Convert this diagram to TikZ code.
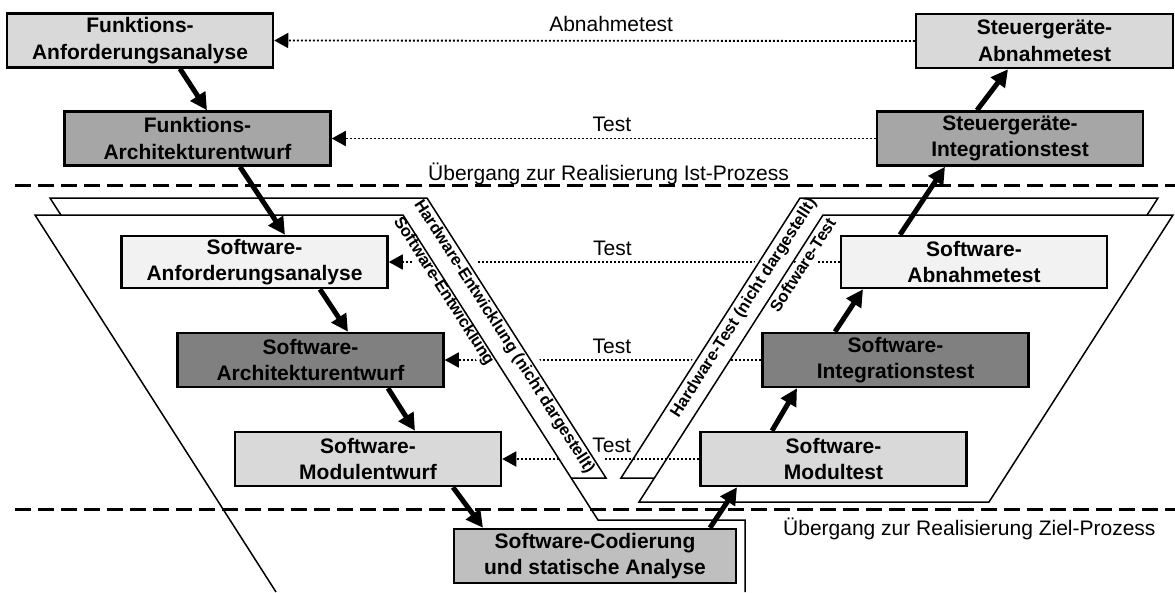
\documentclass[tikz,border=0pt]{standalone}
\usepackage{fontspec}
\setmainfont{Liberation Sans}
\usetikzlibrary{arrows.meta,calc}
\definecolor{gLight}{HTML}{D9D9D9}
\definecolor{gPale}{HTML}{F2F2F2}
\definecolor{gMid}{HTML}{A6A6A6}
\definecolor{gDark}{HTML}{808080}
\definecolor{gCode}{HTML}{BFBFBF}
\tikzset{
  box/.style={draw=black, line width=2.5pt, minimum width=266pt, minimum height=54pt,
    inner sep=0pt, align=center, font=\bfseries\fontsize{21}{26.7}\selectfont},
  flow/.style={line width=5pt, -{Triangle[length=17pt,width=17pt]}},
  testline/.style={line width=1.8pt, dash pattern=on 1.8pt off 2.2pt,
    -{Triangle[length=14pt,width=15pt]}},
  outline/.style={draw=black, line width=1.5pt, line join=miter},
  sepline/.style={line width=3pt, dash pattern=on 16pt off 7pt},
  lbl/.style={font=\fontsize{21}{25}\selectfont, anchor=base, inner sep=0pt},
  rottext/.style={font=\bfseries\fontsize{16.5}{18}\selectfont, fill=white,
    text height=12pt, text depth=3.5pt, inner xsep=2pt, inner ysep=1.5pt},
}
\begin{document}
\begin{tikzpicture}[x=1pt,y=-1pt]
\useasboundingbox (0,0) rectangle (1175,592);

% process boxes
\node[box, fill=gLight] (faa) at (140,40.5) {Funktions-\\Anforderungsanalyse};
\node[box, fill=gMid] (fae) at (197.5,138.5) {Funktions-\\Architekturentwurf};
\node[box, fill=gLight, minimum width=257pt] (sga) at (1044.5,41) {Steuergeräte-\\Abnahmetest};
\node[box, fill=gMid] (sgi) at (1010,138.5) {Steuergeräte-\\Integrationstest};
\node[box, fill=gPale, minimum height=52pt] (sanf) at (254.5,262) {Software-\\Anforderungsanalyse};
\node[box, fill=gDark] (sarch) at (310.5,360) {Software-\\Architekturentwurf};
\node[box, fill=gLight] (sme) at (368,459) {Software-\\Modulentwurf};
\node[box, fill=gPale, minimum height=52pt] (sabn) at (974,262) {Software-\\Abnahmetest};
\node[box, fill=gDark] (sint) at (895.5,360) {Software-\\Integrationstest};
\node[box, fill=gLight] (smt) at (833.5,459) {Software-\\Modultest};
\node[box, fill=gCode, minimum width=282pt] (scod) at (595,556) {Software-Codierung\\und statische Analyse};

% dotted test connectors
\draw[testline] (sga.west) -- node[lbl, pos=0.474, yshift=9pt]{Abnahmetest} (faa.east);
\draw[testline] (sgi.west) -- node[lbl, pos=0.485, yshift=7pt]{Test} (fae.east);
\draw[testline] (sabn.west) -- node[lbl, pos=0.504, yshift=7pt]{Test} (sanf.east);
\draw[testline] (sint.west) -- node[lbl, pos=0.472, yshift=6.5pt]{Test} (sarch.east);
\draw[testline] (smt.west) -- node[lbl, pos=0.445, yshift=6.5pt]{Test} (sme.east);

% rotated phase labels (white boxes hide the dotted lines)
\node[rottext, inner ysep=10pt, rotate=-57.4] (hwE) at (504,337) {Hardware-Entwicklung (nicht dargestellt)};
\node[rottext, rotate=-57.4] (swE) at (443.5,291.5) {Software-Entwicklung};
\node[rottext, inner ysep=8pt, rotate=57.4] (hwT) at (744,308) {Hardware-Test (nicht dargestellt)};
\node[rottext, rotate=57.4] (swT) at (804,266) {Software-Test};

% phase outlines
\draw[outline] (60.9,215) -- (50,198) -- (427,198) -- (606,478) -- (571.3,478);
\draw[outline] (276,592) -- (35,215) -- (403,215) -- (598,520) -- (745,520) -- (745,592);
\draw[outline] (654.7,478) -- (621,478) -- (800,198) -- (1158,198) -- (1147.1,215);
\draw[outline] (823,215) -- (1173,215) -- (989,502) -- (639,502) -- cycle;

% transition lines
\coordinate (ist0) at (15,185); \coordinate (ist1) at (1175,185);
\coordinate (ziel0) at (15,509); \coordinate (ziel1) at (1175,509);
\draw[sepline] (ist0) -- (ist1);
\draw[sepline] (ziel0) -- (ziel1);
\node[lbl, anchor=base west] (istT) at (428,180) {Übergang zur Realisierung Ist-Prozess};
\node[lbl, anchor=base west] (zielT) at (783,535) {Übergang zur Realisierung Ziel-Prozess};

% flow arrows
\draw[flow] ([xshift=40pt]faa.south) -- ([xshift=9.5pt]fae.north);
\draw[flow] ([xshift=42.5pt]fae.south) -- ([xshift=30.5pt]sanf.north);
\draw[flow] ([xshift=65.5pt]sanf.south) -- ([xshift=37.5pt]sarch.north);
\draw[flow] ([xshift=77.5pt]sarch.south) -- ([xshift=47pt]sme.north);
\draw[flow] ([xshift=85pt]sme.south) -- ([xshift=-112pt]scod.north);
\draw[flow] ([xshift=115pt]scod.north) -- ([xshift=-96.5pt]smt.south);
\draw[flow] ([xshift=-61.5pt]smt.north) -- ([xshift=-98.5pt]sint.south);
\draw[flow] ([xshift=-60.5pt]sint.north) -- ([xshift=-111pt]sabn.south);
\draw[flow] ([xshift=-74pt]sabn.north) -- ([xshift=-65pt]sgi.south);
\draw[flow] ([xshift=-33pt]sgi.north) -- ([xshift=-36.5pt]sga.south);
\end{tikzpicture}
\end{document}
